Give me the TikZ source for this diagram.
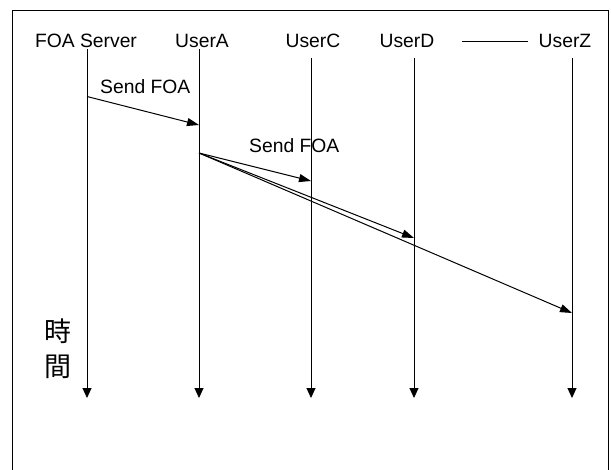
\documentclass[tikz,border=0pt]{standalone}
\usepackage{fontspec}
\setmainfont{Liberation Sans}
\newfontfamily\cjkfont{Noto Sans CJK TC}
\usetikzlibrary{arrows.meta}
\begin{document}
\begin{tikzpicture}[x=1pt,y=-1pt,
  lbl/.style={font=\fontsize{19.3}{22}\selectfont, inner sep=0pt, anchor=base},
  msglbl/.style={font=\fontsize{19.3}{22}\selectfont, inner sep=0pt, anchor=base west},
  lifeline/.style={line width=1pt, -{Triangle[length=10pt,width=9pt]}},
  msg/.style={line width=1pt, -{Triangle[length=12pt,width=8pt]}},
  frameline/.style={line width=1pt}]
  \useasboundingbox (0,0) rectangle (611,469);
  % outer frame (its bottom edge lies below the page)
  \draw[frameline] (12.5,480) -- (12.5,10) -- (608,10) -- (608,480);

  % participant names
  \node[lbl] (srv) at (86,47) {FOA Server};
  \node[lbl] (ua) at (202,47) {UserA};
  \node[lbl] (uc) at (313,47) {UserC};
  \node[lbl] (ud) at (407,47) {UserD};
  \node[lbl] (uz) at (565,47) {UserZ};
  \coordinate (gapL) at (462,41);
  \coordinate (gapR) at (528,41);
  \draw[line width=0.8pt] (gapL) -- (gapR);

  % lifelines
  \coordinate (srvT) at (87,49);  \coordinate (srvB) at (87,398);
  \coordinate (uaT) at (199,49);  \coordinate (uaB) at (199,398);
  \coordinate (ucT) at (311,58);  \coordinate (ucB) at (311,398);
  \coordinate (udT) at (414,58);  \coordinate (udB) at (414,398);
  \coordinate (uzT) at (572,58);  \coordinate (uzB) at (572,398);
  \foreach \p in {srv,ua,uc,ud,uz}
    \draw[lifeline] (\p T) -- (\p B);

  % messages
  \coordinate (m1s) at (87,96.5);
  \coordinate (m1e) at (199,125);
  \draw[msg] (m1s) -- (m1e);
  \node[msglbl] (l1) at (100,93) {Send FOA};

  \coordinate (m2s) at (199,153);
  \coordinate (m2c) at (311,181);
  \coordinate (m2d) at (414,238);
  \coordinate (m2z) at (572,313);
  \draw[msg] (m2s) -- (m2c);
  \draw[msg] (m2s) -- (m2d);
  \draw[msg] (m2s) -- (m2z);
  \node[msglbl] (l2) at (249,152) {Send FOA};

  % time axis caption
  \node[font=\cjkfont\fontsize{27}{35}\selectfont, inner sep=0pt, align=center] (t) at (58.5,349) {時\\間};
\end{tikzpicture}
\end{document}
